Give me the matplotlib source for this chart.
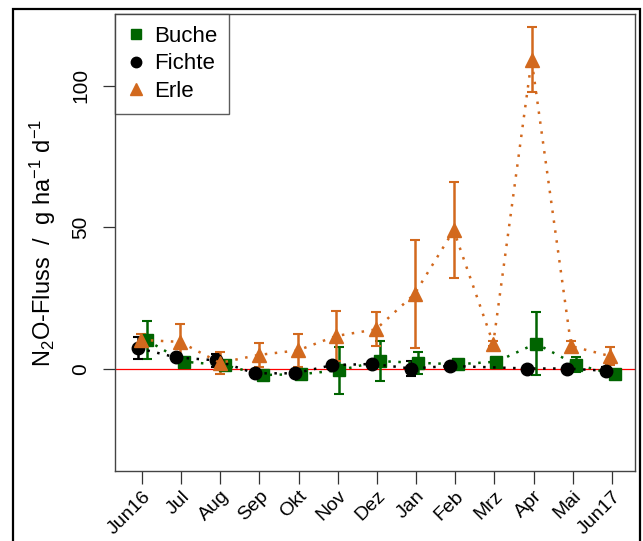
import matplotlib
matplotlib.use("Agg")
from matplotlib import pyplot as plt
from matplotlib.lines import Line2D
from matplotlib.patches import Rectangle

plt.rcParams["font.family"] = ["Liberation Sans", "DejaVu Sans"]
plt.rcParams["mathtext.fontset"] = "custom"
plt.rcParams["mathtext.rm"] = "Liberation Sans"
plt.rcParams["mathtext.it"] = "Liberation Sans"

# -----------------------------------------------------------------------------
# Daten (Monatsindex 0 = Jun16 ... 12 = Jun17)
# -----------------------------------------------------------------------------
monate = ["Jun16", "Jul", "Aug", "Sep", "Okt", "Nov", "Dez", "Jan",
          "Feb", "Mrz", "Apr", "Mai", "Jun17"]

buche_x = [0.12, 1.07, 2.11, 3.08, 4.07, 5.04, 6.08, 7.06, 8.06, 9.05, 10.06, 11.08, 12.07]
buche_y = [10.2, 2.6, 1.4, -2.1, -1.8, -0.4, 2.8, 2.2, 1.7, 2.6, 9.0, 1.6, -1.9]
buche_err = [6.7, 0.8, 0.8, 0.6, 0.6, 8.3, 7.0, 3.8, 0.8, 0.8, 11.0, 2.7, 0.6]

fichte_x = [-0.11, 0.88, 1.89, 2.88, 3.90, 4.86, 5.88, 6.87, 7.86, 9.84, 10.85, 11.84]
fichte_y = [7.4, 4.1, 3.1, -1.5, -1.5, 1.4, 1.8, 0.2, 1.1, 0.2, 0.2, -0.6]
fichte_err = [3.8, 0.6, 2.2, 0.5, 0.5, 0.6, 0.6, 2.7, 0.5, 0.4, 0.4, 1.5]

erle_x = [-0.03, 0.97, 1.99, 2.98, 3.98, 4.96, 5.97, 6.96, 7.96, 8.97, 9.95, 10.96, 11.95]
erle_y = [10.3, 9.6, 2.2, 5.0, 6.6, 11.7, 14.0, 26.5, 49.0, 9.0, 109.2, 8.1, 4.6]
erle_err = [2.2, 6.2, 3.8, 4.2, 5.8, 8.9, 6.0, 19.0, 17.0, 1.0, 11.5, 1.7, 3.2]

GRUEN = "#006400"
SCHWARZ = "black"
ORANGE = "#D2691E"

# -----------------------------------------------------------------------------
# Grafik
# -----------------------------------------------------------------------------
fig = plt.figure(figsize=(6.43, 5.41), dpi=100)
ax = fig.add_axes([115 / 643, 1 - 471 / 541, (635 - 115) / 643, (471 - 14) / 541])

ax.axhline(0, color="red", lw=0.9, zorder=1)

for x, y, e, farbe, marker, ms in [
    (buche_x, buche_y, buche_err, GRUEN, "s", 8),
    (fichte_x, fichte_y, fichte_err, SCHWARZ, "o", 9),
    (erle_x, erle_y, erle_err, ORANGE, "^", 9.5),
]:
    ax.errorbar(x, y, yerr=e, color=farbe, marker=marker, ms=ms,
                linestyle=(0, (1, 3)), lw=1.8, elinewidth=1.8,
                capsize=3.5, capthick=1.5, zorder=3)

ax.set_xlim(-0.69, 12.59)
ax.set_ylim(-36, 125.4)
ax.set_xticks(range(len(monate)))
ax.set_xticklabels(monate, rotation=45, ha="right", rotation_mode="anchor",
                   fontsize=14)
ax.set_yticks([0, 50, 100])
ax.set_yticklabels(["0", "50", "100"], rotation=90, va="center", fontsize=15)
ax.tick_params(axis="both", direction="out", length=9, width=0.9, colors="#333333",
               labelcolor="black")
ax.tick_params(axis="x", pad=3)
ax.tick_params(axis="y", pad=9)
for s in ax.spines.values():
    s.set_color("#444444")
    s.set_linewidth(1.0)

ax.set_ylabel(r"N$_2$O-Fluss  /  g ha$^{-1}$ d$^{-1}$", fontsize=17, labelpad=9)

handles = [
    Line2D([], [], color=GRUEN, marker="s", ms=7, linestyle="none"),
    Line2D([], [], color=SCHWARZ, marker="o", ms=7.5, linestyle="none"),
    Line2D([], [], color=ORANGE, marker="^", ms=8.5, linestyle="none"),
]
leg = ax.legend(handles, ["Buche", "Fichte", "Erle"], loc="upper left",
                fontsize=16, frameon=True, fancybox=False, borderaxespad=0,
                handlelength=0.8, handletextpad=0.4, labelspacing=0.28,
                borderpad=0.55)
leg.get_frame().set_edgecolor("#333333")
leg.get_frame().set_linewidth(1.0)

# Rahmen um die gesamte Abbildung
fig.add_artist(Rectangle((13 / 643, -0.05), (640 - 13) / 643, 1.05 - 9 / 541,
                         transform=fig.transFigure, fill=False,
                         edgecolor="black", lw=1.6))

fig.savefig("out.png", dpi=100)
